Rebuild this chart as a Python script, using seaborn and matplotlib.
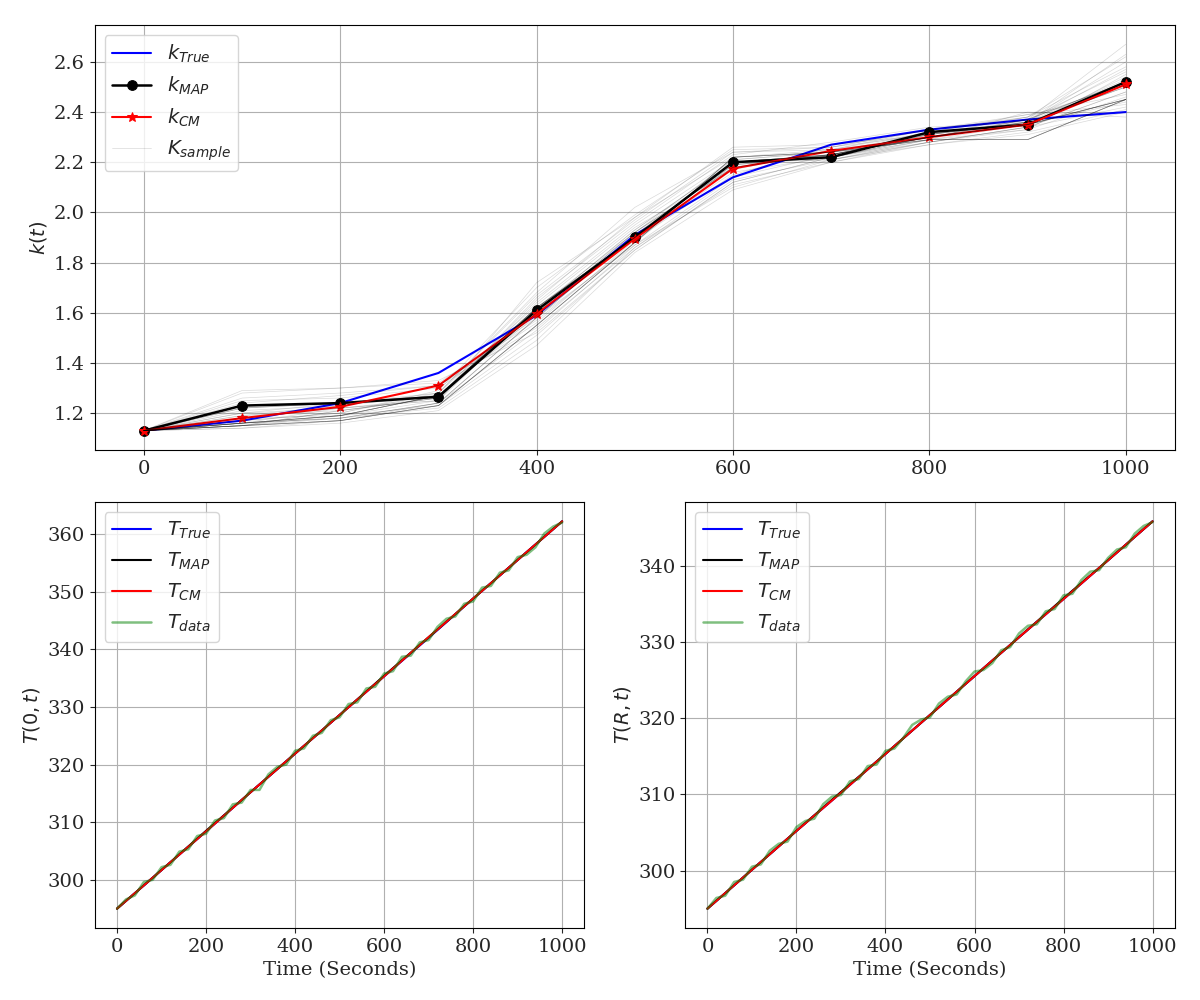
import matplotlib
matplotlib.use("Agg")
import matplotlib.pyplot as plt
import seaborn as sns

# time grid of the conductivity parameter (seconds)
t_k = [0, 100, 200, 300, 400, 500, 600, 700, 800, 900, 1000]

k_true = [1.13, 1.17, 1.24, 1.36, 1.59, 1.91, 2.14, 2.27, 2.33, 2.37, 2.40]
k_map = [1.13, 1.23, 1.24, 1.265, 1.61, 1.90, 2.20, 2.22, 2.32, 2.35, 2.52]
k_cm = [1.13, 1.18, 1.225, 1.31, 1.595, 1.895, 2.175, 2.245, 2.30, 2.35, 2.51]

# posterior samples and how many times each state was kept in the chain
k_samples = [
    [1.13, 1.16, 1.19, 1.27, 1.62, 1.90, 2.20, 2.23, 2.30, 2.35, 2.45],
    [1.13, 1.15, 1.17, 1.23, 1.55, 1.88, 2.22, 2.24, 2.29, 2.29, 2.45],
    [1.13, 1.29, 1.30, 1.33, 1.52, 1.85, 2.12, 2.22, 2.28, 2.34, 2.42],
    [1.13, 1.28, 1.30, 1.32, 1.58, 1.87, 2.10, 2.21, 2.27, 2.31, 2.40],
    [1.13, 1.20, 1.22, 1.25, 1.72, 1.98, 2.26, 2.27, 2.31, 2.36, 2.63],
    [1.13, 1.17, 1.20, 1.28, 1.68, 2.02, 2.24, 2.25, 2.33, 2.37, 2.67],
    [1.13, 1.14, 1.16, 1.21, 1.47, 1.84, 2.09, 2.20, 2.28, 2.33, 2.55],
    [1.13, 1.15, 1.18, 1.22, 1.49, 1.86, 2.13, 2.21, 2.29, 2.40, 2.38],
    [1.13, 1.22, 1.24, 1.27, 1.60, 1.92, 2.18, 2.23, 2.31, 2.36, 2.50],
    [1.13, 1.19, 1.21, 1.26, 1.64, 1.95, 2.21, 2.24, 2.32, 2.38, 2.58],
    [1.13, 1.16, 1.18, 1.24, 1.58, 1.91, 2.19, 2.22, 2.30, 2.37, 2.52],
    [1.13, 1.25, 1.26, 1.30, 1.56, 1.89, 2.15, 2.26, 2.33, 2.39, 2.47],
    [1.13, 1.18, 1.19, 1.25, 1.66, 1.96, 2.23, 2.28, 2.34, 2.36, 2.60],
    [1.13, 1.15, 1.21, 1.26, 1.61, 1.93, 2.20, 2.21, 2.28, 2.34, 2.48],
    [1.13, 1.21, 1.23, 1.28, 1.63, 1.94, 2.17, 2.25, 2.32, 2.35, 2.44],
    [1.13, 1.14, 1.17, 1.24, 1.53, 1.87, 2.14, 2.23, 2.30, 2.36, 2.53],
    [1.13, 1.17, 1.20, 1.29, 1.70, 1.99, 2.25, 2.26, 2.31, 2.37, 2.56],
    [1.13, 1.19, 1.23, 1.27, 1.59, 1.90, 2.16, 2.22, 2.29, 2.33, 2.46],
    [1.13, 1.16, 1.22, 1.25, 1.62, 1.92, 2.21, 2.24, 2.31, 2.38, 2.51],
    [1.13, 1.24, 1.27, 1.31, 1.57, 1.88, 2.19, 2.23, 2.32, 2.39, 2.43],
    [1.13, 1.26, 1.28, 1.31, 1.54, 1.86, 2.11, 2.20, 2.27, 2.32, 2.41],
    [1.13, 1.20, 1.24, 1.28, 1.67, 1.97, 2.24, 2.26, 2.33, 2.38, 2.62],
    [1.13, 1.15, 1.19, 1.23, 1.51, 1.85, 2.12, 2.22, 2.29, 2.35, 2.54],
    [1.13, 1.18, 1.22, 1.26, 1.65, 1.98, 2.22, 2.25, 2.30, 2.36, 2.57],
]
sample_counts = [6, 5, 1, 1, 1, 1, 1, 1, 3, 1, 3, 1, 1, 2, 1, 1, 1, 1, 1, 1,
                 1, 1, 1, 1]

# model temperatures at the centre and the surface
t_model = [0, 100, 200, 300, 400, 500, 600, 700, 800, 900, 1000]
T0_true = [295.0, 301.7, 308.4, 315.2, 321.9, 328.6, 335.3, 342.0, 348.8, 355.5, 362.2]
T0_map = [295.0, 301.7, 308.5, 315.2, 321.9, 328.6, 335.4, 342.1, 348.8, 355.5, 362.2]
T0_cm = [295.0, 301.7, 308.4, 315.2, 321.9, 328.6, 335.3, 342.1, 348.8, 355.5, 362.2]
TR_true = [295.0, 300.1, 305.2, 310.2, 315.3, 320.4, 325.5, 330.6, 335.6, 340.7, 345.8]
TR_map = [295.0, 300.1, 305.2, 310.3, 315.3, 320.4, 325.5, 330.6, 335.7, 340.7, 345.8]
TR_cm = [295.0, 300.1, 305.2, 310.2, 315.3, 320.4, 325.5, 330.6, 335.6, 340.7, 345.8]

# measured temperatures
t_data = [0, 20, 40, 60, 80, 100, 120, 140, 160, 180, 200, 220, 240, 260, 280,
          300, 320, 340, 360, 380, 400, 420, 440, 460, 480, 500, 520, 540, 560,
          580, 600, 620, 640, 660, 680, 700, 720, 740, 760, 780, 800, 820, 840,
          860, 880, 900, 920, 940, 960, 980, 1000]
T0_data = [295.0, 296.6, 297.3, 299.6, 300.0, 302.2, 302.6, 304.9, 305.3, 307.6,
           308.0, 310.3, 310.7, 313.1, 313.4, 315.6, 315.6, 318.3, 319.6, 320.0,
           322.4, 322.8, 325.0, 325.5, 327.7, 328.2, 330.5, 330.8, 333.2, 333.5,
           335.8, 336.2, 338.7, 338.9, 341.2, 341.6, 343.9, 345.3, 345.7, 347.9,
           348.3, 350.7, 351.0, 353.3, 353.7, 356.0, 356.4, 357.7, 360.1, 361.3,
           362.0]
TR_data = [295.0, 296.4, 296.7, 298.5, 298.8, 300.5, 300.8, 302.6, 303.5, 303.8,
           305.7, 306.5, 306.8, 308.7, 309.7, 309.9, 311.7, 312.0, 313.7, 313.9,
           315.7, 316.0, 317.4, 319.1, 319.8, 320.1, 321.9, 322.8, 323.1, 324.8,
           326.1, 326.3, 327.2, 328.9, 329.3, 331.1, 332.1, 332.3, 334.0, 334.3,
           336.1, 336.3, 338.1, 339.2, 339.4, 341.0, 342.1, 342.4, 344.2, 345.2,
           345.7]

sns.set_style("ticks", {
    "axes.grid": True,
    "grid.color": "#b0b0b0",
    "axes.edgecolor": "black",
    "xtick.major.size": 3.5,
    "ytick.major.size": 3.5,
})
plt.rcParams["font.family"] = ["DejaVu Serif"]
plt.rcParams["mathtext.fontset"] = "dejavusans"
plt.rcParams["font.size"] = 14

fig = plt.figure(figsize=(12, 10), dpi=100)
ax_k = fig.add_axes([0.079, 0.55, 0.9, 0.425])
ax_0 = fig.add_axes([0.079, 0.072, 0.408, 0.426])
ax_r = fig.add_axes([0.571, 0.072, 0.408, 0.426])

sns.lineplot(x=t_k, y=k_true, ax=ax_k, color="blue", lw=1.5, label="$k_{True}$")
sns.lineplot(x=t_k, y=k_map, ax=ax_k, color="black", lw=1.8, marker="o",
             markersize=7, markeredgecolor="black", label="$k_{MAP}$")
sns.lineplot(x=t_k, y=k_cm, ax=ax_k, color="red", lw=1.5, marker="*",
             markersize=7, markeredgecolor="red", label="$k_{CM}$")

first = True
for sample, count in zip(k_samples, sample_counts):
    for _ in range(count):
        ax_k.plot(t_k, sample, color="black", lw=0.5, alpha=0.15,
                  label="$K_{sample}$" if first else None)
        first = False

ax_k.set_ylabel("$k(t)$")
ax_k.set_xlabel("")
ax_k.set_xticks([0, 200, 400, 600, 800, 1000])
ax_k.legend(loc="upper left", fontsize=14)

for ax, tt, tm, tc, td, lab in [
    (ax_0, T0_true, T0_map, T0_cm, T0_data, "$T(0,t)$"),
    (ax_r, TR_true, TR_map, TR_cm, TR_data, "$T(R,t)$"),
]:
    sns.lineplot(x=t_model, y=tt, ax=ax, color="blue", lw=1.5, label="$T_{True}$")
    sns.lineplot(x=t_model, y=tm, ax=ax, color="black", lw=1.5, label="$T_{MAP}$")
    sns.lineplot(x=t_model, y=tc, ax=ax, color="red", lw=1.5, label="$T_{CM}$")
    sns.lineplot(x=t_data, y=td, ax=ax, color="green", lw=1.8, alpha=0.5,
                 label="$T_{data}$")
    ax.set_xlabel("Time (Seconds)")
    ax.set_ylabel(lab)
    ax.set_xticks([0, 200, 400, 600, 800, 1000])
    ax.legend(loc="upper left", fontsize=14)

fig.savefig("out.png", dpi=100)
